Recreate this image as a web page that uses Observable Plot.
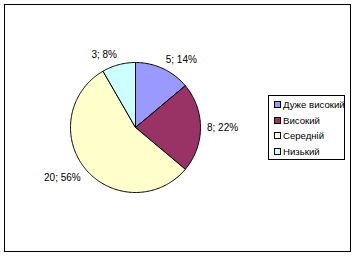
<!DOCTYPE html>
<html>
<head>
<meta charset="utf-8">
<script src="https://cdn.jsdelivr.net/npm/d3@7"></script>
<script src="https://cdn.jsdelivr.net/npm/@observablehq/plot@0.6"></script>
<style>
  html, body { margin: 0; padding: 0; background: #fff; }
  #wrap { position: relative; width: 354px; height: 256px; font-family: "Liberation Sans", Arial, sans-serif; }
  #border { position: absolute; left: 4px; top: 4px; width: 345px; height: 246px; border: 1px solid #000; pointer-events: none; }
  #legend { position: absolute; left: 268px; top: 95px; width: 75px; height: 63px; border: 1px solid #000; background: #fff; font-size: 9.6px; color: #000; }
  .item { position: absolute; left: 5px; height: 12px; line-height: 12px; white-space: nowrap; }
  .sw { display: inline-block; width: 5px; height: 5px; border: 1px solid #000; margin-right: 2px; vertical-align: 0px; }
  svg { position: absolute; left: 0; top: 0; }
</style>
</head>
<body>
<div id="wrap"><div id="chart"></div><div id="legend"></div><div id="border"></div></div>
<script>
const categories = ["Дуже високий", "Високий", "Середній", "Низький"];
const values = [5, 8, 20, 3];
const percentLabels = ["14%", "22%", "56%", "8%"];
const colors = ["#9999FF", "#993366", "#FFFFCC", "#CCFFFF"];

const arcs = d3.pie().sort(null).value(d => d)(values);

// slice outlines in unit-circle data coordinates (angle 0 at top, clockwise)
const pts = [];
arcs.forEach((a, i) => {
  const n = Math.max(8, Math.ceil((a.endAngle - a.startAngle) / 0.02));
  pts.push({cat: categories[i], x: 0, y: 0});
  for (let k = 0; k <= n; k++) {
    const t = a.startAngle + (a.endAngle - a.startAngle) * k / n;
    pts.push({cat: categories[i], x: Math.sin(t), y: Math.cos(t)});
  }
  pts.push({cat: categories[i], x: 0, y: 0});
});

const labels = arcs.map((a, i) => {
  const m = (a.startAngle + a.endAngle) / 2;
  const sx = Math.sin(m), cy = Math.cos(m);
  return {
    text: `${values[i]}; ${percentLabels[i]}`,
    x: 1.1 * sx, y: 1.1 * cy,
    ta: sx >= 0 ? "start" : "end",
    la: Math.abs(cy) < 0.3 ? "middle" : (cy > 0 ? "bottom" : "top")
  };
});
const groups = d3.groups(labels, d => d.ta + "|" + d.la);

const cx = 135, cyPx = 127, r = 65;
const W = 354, H = 256;

const chart = Plot.plot({
  width: W, height: H,
  marginLeft: cx - r, marginRight: W - (cx + r),
  marginTop: cyPx - r, marginBottom: H - (cyPx + r),
  x: {domain: [-1, 1], axis: null},
  y: {domain: [-1, 1], axis: null},
  color: {domain: categories, range: colors},
  style: {fontFamily: "Liberation Sans, Arial, sans-serif", background: "transparent"},
  marks: [
    Plot.line(pts, {x: "x", y: "y", z: "cat", fill: "cat", stroke: "#000", strokeWidth: 1, curve: "linear"}),
    ...groups.map(([key, g]) => Plot.text(g, {
      x: "x", y: "y", text: "text",
      textAnchor: g[0].ta, lineAnchor: g[0].la,
      fontSize: 10, fill: "#000"
    }))
  ]
});
document.getElementById("chart").appendChild(chart);

const legend = document.getElementById("legend");
categories.forEach((c, i) => {
  const d = document.createElement("div");
  d.className = "item";
  d.style.top = (3 + i * 15.5) + "px";
  d.innerHTML = `<span class="sw" style="background:${colors[i]}"></span>${c}`;
  legend.appendChild(d);
});
</script>
</body>
</html>
